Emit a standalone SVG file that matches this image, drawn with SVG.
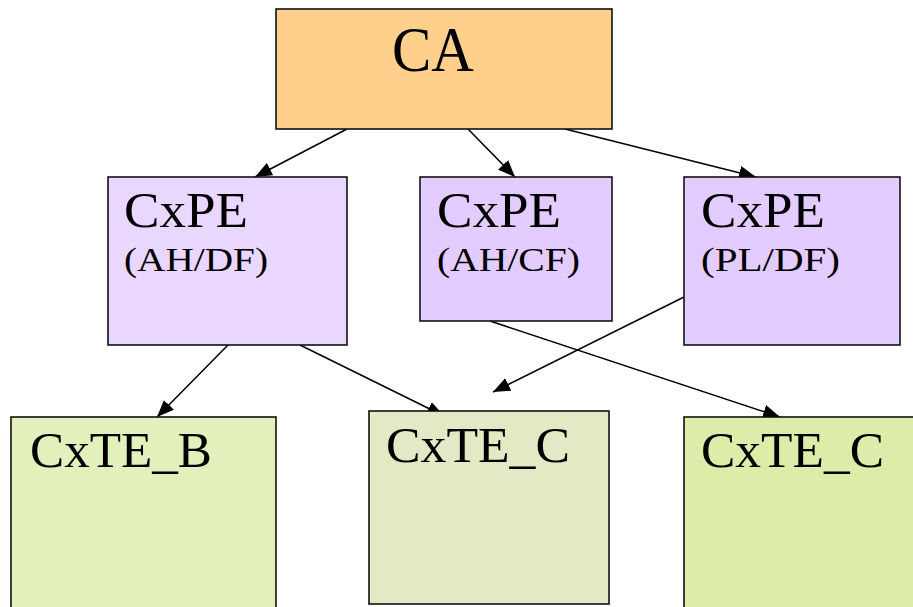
<svg xmlns="http://www.w3.org/2000/svg" width="913" height="607" viewBox="0 0 913 607">
  <defs>
    <marker id="arrow" markerUnits="userSpaceOnUse" markerWidth="18" markerHeight="14" refX="17" refY="7" orient="auto">
      <path d="M0,0 L17,7 L0,14 z" fill="#000"/>
    </marker>
    <style>
      .box { stroke: #111; stroke-width: 1.6; }
      .t { font-family: "Liberation Serif", "DejaVu Serif", serif; fill: #000; }
      .edge { stroke: #000; stroke-width: 1.5; fill: none; marker-end: url(#arrow); }
    </style>
  </defs>
  <rect width="913" height="607" fill="#fff"/>

  <g id="connectors">
    <line class="edge" x1="347" y1="129" x2="255" y2="177"/>
    <line class="edge" x1="468" y1="129" x2="515" y2="177"/>
    <line class="edge" x1="565" y1="129" x2="756" y2="177"/>
    <line class="edge" x1="228" y1="345" x2="157" y2="417"/>
    <line class="edge" x1="300" y1="345" x2="444" y2="416"/>
    <line class="edge" x1="490" y1="321" x2="780" y2="417"/>
    <line class="edge" x1="684" y1="297" x2="493" y2="392"/>
  </g>

  <g id="ca">
    <rect class="box" x="276" y="9" width="336" height="120" fill="#FFD08C"/>
    <text class="t" x="392" y="71" font-size="64" textLength="82" lengthAdjust="spacingAndGlyphs">CA</text>
  </g>

  <g id="cxpe-ah-df">
    <rect class="box" x="108" y="177" width="239" height="168" fill="#E9D7FF"/>
    <text class="t" x="124" y="227" font-size="50" textLength="124" lengthAdjust="spacingAndGlyphs">CxPE</text>
    <text class="t" x="124" y="271" font-size="33" textLength="144" lengthAdjust="spacingAndGlyphs">(AH/DF)</text>
  </g>

  <g id="cxpe-ah-cf">
    <rect class="box" x="420" y="177" width="192" height="144" fill="#E3CCFF"/>
    <text class="t" x="437" y="227" font-size="50" textLength="124" lengthAdjust="spacingAndGlyphs">CxPE</text>
    <text class="t" x="437" y="271" font-size="33" textLength="143" lengthAdjust="spacingAndGlyphs">(AH/CF)</text>
  </g>

  <g id="cxpe-pl-df">
    <rect class="box" x="684" y="177" width="216" height="168" fill="#E3CCFF"/>
    <text class="t" x="701" y="227" font-size="50" textLength="124" lengthAdjust="spacingAndGlyphs">CxPE</text>
    <text class="t" x="701" y="271" font-size="33" textLength="139" lengthAdjust="spacingAndGlyphs">(PL/DF)</text>
  </g>

  <g id="cxte-b">
    <rect class="box" x="11" y="417" width="265" height="200" fill="#E2F0BB"/>
    <text class="t" x="30" y="467" font-size="51" textLength="182" lengthAdjust="spacingAndGlyphs">CxTE_B</text>
  </g>

  <g id="cxte-c-mid">
    <rect class="box" x="369" y="411" width="240" height="193" fill="#E5E8C5"/>
    <text class="t" x="386" y="462" font-size="51" textLength="184" lengthAdjust="spacingAndGlyphs">CxTE_C</text>
  </g>

  <g id="cxte-c-right">
    <rect class="box" x="684" y="417" width="240" height="200" fill="#DCEDAA"/>
    <text class="t" x="701" y="467" font-size="51" textLength="183" lengthAdjust="spacingAndGlyphs">CxTE_C</text>
  </g>
</svg>
